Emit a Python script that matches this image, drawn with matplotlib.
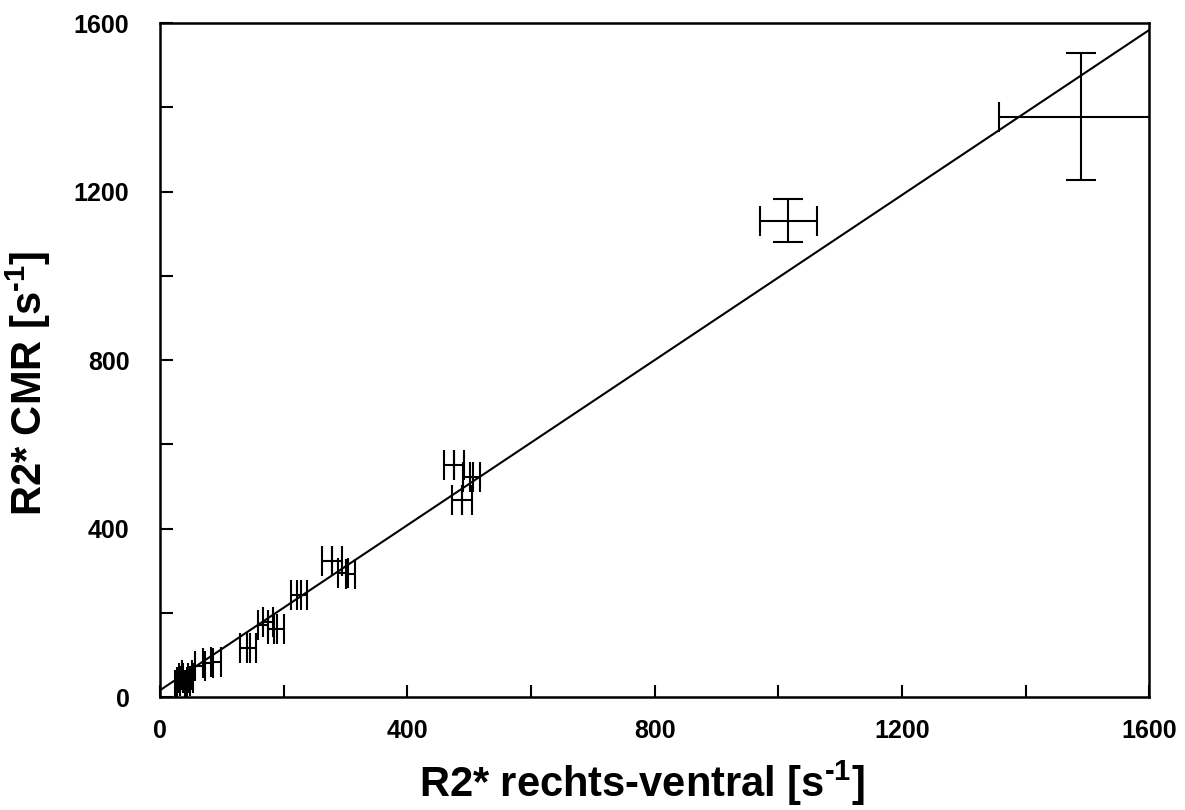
import matplotlib
matplotlib.use('Agg')
import matplotlib.pyplot as plt
import numpy as np

# R2* Messwerte: rechts-ventral (x) gegen CMR (y)
# kleine Werte: nur Fehler in x sichtbar
r2_ventral = [32, 36, 38, 41, 43, 46, 64, 78, 90, 138, 148, 166, 174, 182, 192,
              220, 230, 270, 286, 296, 308, 468, 484, 498, 510, 480, 496]
r2_cmr = [28, 35, 45, 38, 52, 44, 74, 80, 83, 116, 116, 172, 178, 162, 162,
          242, 242, 323, 323, 295, 292, 551, 551, 523, 523, 467, 467]
err_ventral = [8, 8, 8, 8, 8, 8, 8, 8, 8, 8, 8, 8, 8, 8, 8,
               8, 8, 8, 8, 8, 8, 8, 8, 8, 8, 8, 8]

# große Werte mit Fehlern in x und y
big_ventral = [1016, 1490]
big_cmr = [1131, 1378]
big_err_ventral = [46, 133]
big_err_cmr = [51, 150]

# Regressionsgerade
fit_slope = 0.98
fit_intercept = 16

plt.rcParams['font.family'] = ['Liberation Sans', 'DejaVu Sans']
plt.rcParams['font.weight'] = 'bold'
plt.rcParams['mathtext.fontset'] = 'custom'
plt.rcParams['mathtext.rm'] = 'Liberation Sans:bold'
plt.rcParams['mathtext.it'] = 'Liberation Sans:bold'
plt.rcParams['mathtext.bf'] = 'Liberation Sans:bold'

fig = plt.figure(figsize=(11.85, 8.1), dpi=100)
ax = fig.add_axes([0.135, 0.1395, 0.835, 0.832])

ax.errorbar(r2_ventral, r2_cmr, xerr=err_ventral, fmt='none',
            ecolor='black', elinewidth=1.5, capsize=11, capthick=1.5)
ax.errorbar(big_ventral, big_cmr, xerr=big_err_ventral, yerr=big_err_cmr, fmt='none',
            ecolor='black', elinewidth=1.5, capsize=11, capthick=1.5)

xs = np.array([0, 1600])
ax.plot(xs, fit_slope * xs + fit_intercept, color='black', lw=1.5)

ax.set_xlim(0, 1600)
ax.set_ylim(0, 1600)
ax.set_xticks([0, 400, 800, 1200, 1600])
ax.set_yticks([0, 400, 800, 1200, 1600])
ax.set_xticks([200, 600, 1000, 1400], minor=True)
ax.set_yticks([200, 600, 1000, 1400], minor=True)
ax.tick_params(which='both', direction='in', length=9, width=1.5,
               top=False, right=False, labelsize=18)
ax.tick_params(axis='x', pad=16)
ax.tick_params(axis='y', pad=22)
for lab in ax.get_xticklabels() + ax.get_yticklabels():
    lab.set_fontweight('bold')
for sp in ax.spines.values():
    sp.set_linewidth(1.8)

ax.set_xlabel(r'R2* rechts-ventral [s$^{\text{-1}}$]', fontsize=30, fontweight='bold')
ax.set_ylabel(r'R2* CMR [s$^{\text{-1}}$]', fontsize=30, fontweight='bold')
ax.xaxis.set_label_coords(0.487, -0.092)
ax.yaxis.set_label_coords(-0.108, 0.465)

fig.savefig('out.png', dpi=100)
